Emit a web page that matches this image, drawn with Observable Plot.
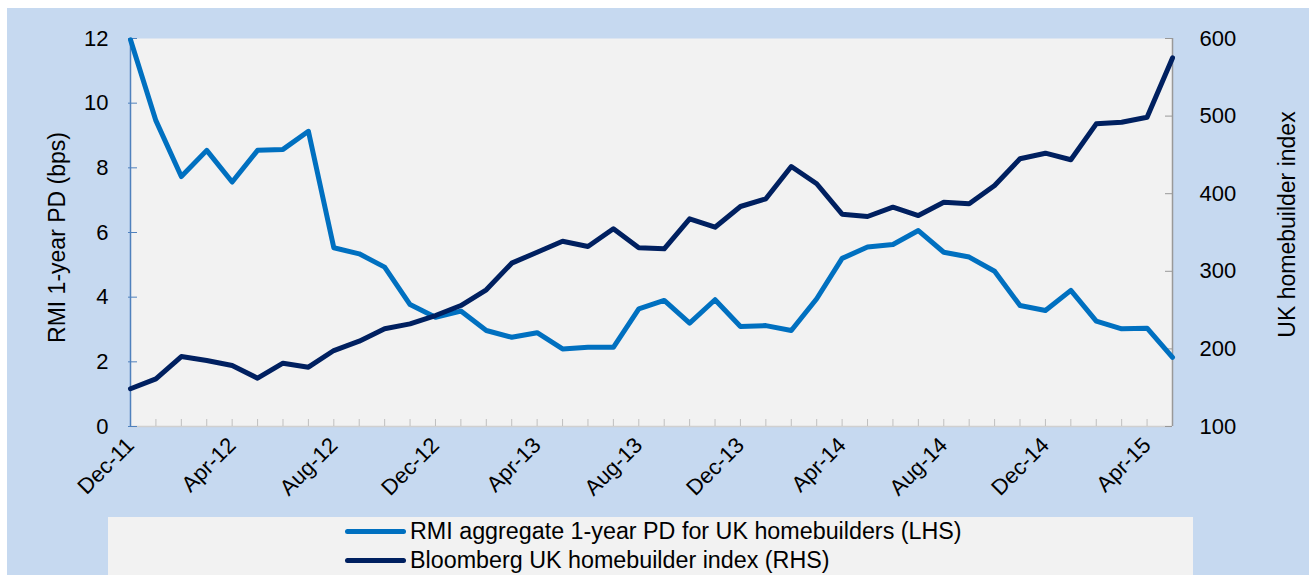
<!DOCTYPE html>
<html><head><meta charset="utf-8">
<script src="https://cdn.jsdelivr.net/npm/d3@7"></script>
<script src="https://cdn.jsdelivr.net/npm/@observablehq/plot@0.6"></script>
<style>
body{margin:0;background:#fff;width:1309px;height:575px;overflow:hidden;position:relative;font-family:"Liberation Sans",Arial,sans-serif;}
#bg{position:absolute;left:7px;top:8px;width:1302px;height:567px;background:#c6d9f0;}
#chart{position:absolute;left:0;top:0;}
#legend{position:absolute;left:108px;top:517px;width:1085px;height:58px;background:#f2f2f2;}
.item{position:absolute;left:237px;display:flex;align-items:center;font-size:23.3px;line-height:26px;color:#000;white-space:nowrap;}
.sw{width:61px;height:5px;border-radius:3px;margin-right:4px;}
</style></head><body>
<div id="bg"></div><div id="chart"></div>
<div id="legend"></div>
<script>
const months = ["Dec-11","Jan-12","Feb-12","Mar-12","Apr-12","May-12","Jun-12","Jul-12","Aug-12","Sep-12","Oct-12","Nov-12","Dec-12","Jan-13","Feb-13","Mar-13","Apr-13","May-13","Jun-13","Jul-13","Aug-13","Sep-13","Oct-13","Nov-13","Dec-13","Jan-14","Feb-14","Mar-14","Apr-14","May-14","Jun-14","Jul-14","Aug-14","Sep-14","Oct-14","Nov-14","Dec-14","Jan-15","Feb-15","Mar-15","Apr-15","May-15"];
const pdValues = [11.96,9.46,7.73,8.54,7.56,8.54,8.57,9.13,5.53,5.34,4.93,3.77,3.38,3.57,2.97,2.76,2.90,2.40,2.45,2.45,3.64,3.90,3.20,3.92,3.09,3.12,2.97,3.95,5.20,5.55,5.63,6.06,5.39,5.24,4.80,3.74,3.59,4.21,3.26,3.02,3.04,2.14];
const indexValues = [148.6,161.4,190.2,185,178.6,162.3,181.6,176.4,197.9,209.9,225.9,232.3,243,255.9,276.2,310.5,324.6,338.8,332,354.8,330.3,329,367.6,356.8,383.5,393.4,435,412.8,373.6,370.6,382.6,371.9,389,387,410.6,445,452.2,443.7,490,492.1,498.6,575];
const xTickLabels = ["Dec-11","Apr-12","Aug-12","Dec-12","Apr-13","Aug-13","Dec-13","Apr-14","Aug-14","Dec-14","Apr-15"];
const lhsTicks = [0,2,4,6,8,10,12];
const rhsTicks = [100,200,300,400,500,600];
const seriesNames = ["RMI aggregate 1-year PD for UK homebuilders (LHS)","Bloomberg UK homebuilder index (RHS)"];
const seriesColors = ["#0070c0","#002060"];
const lhsTitle = "RMI 1-year PD (bps)";
const rhsTitle = "UK homebuilder index";

const W = 1309, H = 517, mL = 130, mR = 137, mT = 38, mB = 91;
const plotW = W - mL - mR, plotH = H - mT - mB;
const toLeft = d3.scaleLinear().domain([rhsTicks[0], rhsTicks[rhsTicks.length-1]]).range([lhsTicks[0], lhsTicks[lhsTicks.length-1]]);
const rows = months.map((m, i) => ({month: m, pd: pdValues[i], idx: toLeft(indexValues[i])}));

const chart = Plot.plot({
  width: W, height: H,
  marginLeft: mL, marginRight: mR, marginTop: mT, marginBottom: mB,
  style: {background: "transparent", fontFamily: "'Liberation Sans', Arial, sans-serif", fontSize: "22px", color: "#000"},
  x: {type: "point", domain: months, padding: 0, round: false},
  y: {domain: [lhsTicks[0], lhsTicks[lhsTicks.length-1]]},
  marks: [
    Plot.frame({fill: "#f2f2f2", stroke: null}),
    Plot.ruleY([0], {stroke: "#d0d0d0", strokeWidth: 1.5}),
    Plot.tickX(months, {x: d => d, stroke: "#bfbfbf", strokeWidth: 1, insetTop: plotH - 7}),
    Plot.ruleX([months[0]], {stroke: "#4f81bd", strokeWidth: 1.5}),
    Plot.ruleX([months[months.length-1]], {stroke: "#999999", strokeWidth: 1.5}),
    Plot.tickY(lhsTicks, {y: d => d, stroke: "#4f81bd", insetLeft: -2, insetRight: plotW - 7}),
    Plot.tickY(rhsTicks.map(toLeft), {y: d => d, stroke: "#999999", insetLeft: plotW - 7}),
    Plot.axisY({anchor: "left", ticks: lhsTicks, tickSize: 0, tickPadding: 22, label: null, fontSize: 22}),
    Plot.axisY({anchor: "right", ticks: rhsTicks.map(toLeft), tickFormat: d => String(Math.round(toLeft.invert(d))), tickSize: 0, tickPadding: 27, label: null, fontSize: 22}),
    Plot.axisX({ticks: xTickLabels, tickRotate: -45, tickSize: 0, tickPadding: 15, label: null, fontSize: 22}),
    Plot.lineY(rows, {x: "month", y: "pd", stroke: seriesColors[0], strokeWidth: 5}),
    Plot.lineY(rows, {x: "month", y: "idx", stroke: seriesColors[1], strokeWidth: 5}),
    Plot.text([lhsTitle], {frameAnchor: "left", textAnchor: "middle", text: d => d, rotate: -90, dx: -73, dy: 5, fontSize: 23}),
    Plot.text([rhsTitle], {frameAnchor: "right", textAnchor: "middle", text: d => d, rotate: -90, dx: 115, dy: -8, fontSize: 23})
  ]
});
document.getElementById("chart").appendChild(chart);

const legend = document.getElementById("legend");
seriesNames.forEach((name, i) => {
  const item = document.createElement("div");
  item.className = "item";
  item.style.top = (1 + i * 29) + "px";
  const sw = document.createElement("div");
  sw.className = "sw";
  sw.style.background = seriesColors[i];
  const t = document.createElement("span");
  t.textContent = name;
  item.appendChild(sw); item.appendChild(t);
  legend.appendChild(item);
});
</script>
</body></html>
